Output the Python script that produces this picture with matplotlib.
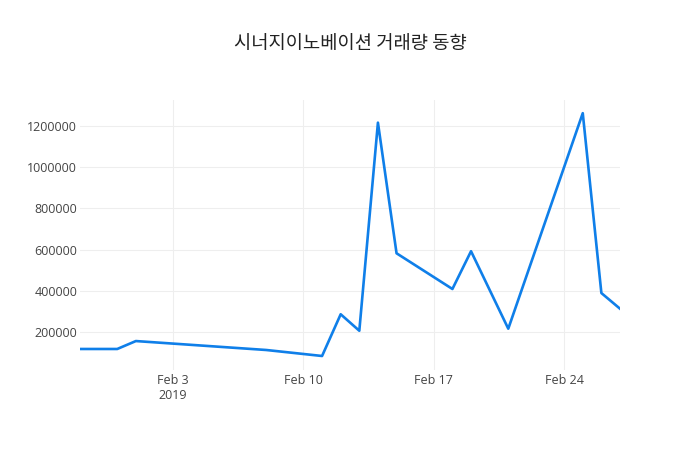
import matplotlib.pyplot as plt
import matplotlib.dates as mdates
import pandas as pd

plt.rcParams['font.family'] = ['Noto Sans CJK KR', 'DejaVu Sans']

dates = ['2019-01-29', '2019-01-31', '2019-02-01', '2019-02-08', '2019-02-11',
         '2019-02-12', '2019-02-13', '2019-02-14', '2019-02-15', '2019-02-18',
         '2019-02-19', '2019-02-21', '2019-02-25', '2019-02-26', '2019-02-27']
volume = [117500, 117500, 156000, 112600, 83500,
          286000, 206000, 1216000, 582000, 408700,
          592000, 216000, 1262000, 389000, 313000]
x_ticks = ['2019-02-03', '2019-02-10', '2019-02-17', '2019-02-24']
x_tick_labels = ['Feb 3\n2019', 'Feb 10', 'Feb 17', 'Feb 24']
y_ticks = [200000, 400000, 600000, 800000, 1000000, 1200000]
title = '시너지이노베이션 거래량 동향'


def main():
    x = pd.to_datetime(dates)
    fig = plt.figure(figsize=(7, 4.5), dpi=100)
    ax = fig.add_axes([80 / 700, 80 / 450, 540 / 700, 270 / 450])

    ax.plot(x, volume, color='#0f7fe9', linewidth=1.9, zorder=3)

    ax.set_xlim(x[0], x[-1])
    ax.set_ylim(15500, 1326000)
    ax.set_xticks(pd.to_datetime(x_ticks))
    ax.set_xticklabels(x_tick_labels, family=['Open Sans', 'DejaVu Sans'])
    ax.set_yticks(y_ticks)
    ax.set_yticklabels([str(v) for v in y_ticks], family=['Open Sans', 'DejaVu Sans'])
    ax.tick_params(axis='x', length=0, labelsize=9, colors='#444444', pad=3)
    ax.tick_params(axis='y', length=0, labelsize=9, colors='#444444', pad=2)
    ax.grid(color='#eeeeee', linewidth=0.8)
    ax.set_axisbelow(True)
    for s in ax.spines.values():
        s.set_visible(False)

    fig.text(0.5, 1 - 44 / 450, title, ha='center', va='center',
             fontsize=13.5, color='#222222', fontweight='medium')

    fig.savefig('out.png', dpi=100)


if __name__ == '__main__':
    main()
